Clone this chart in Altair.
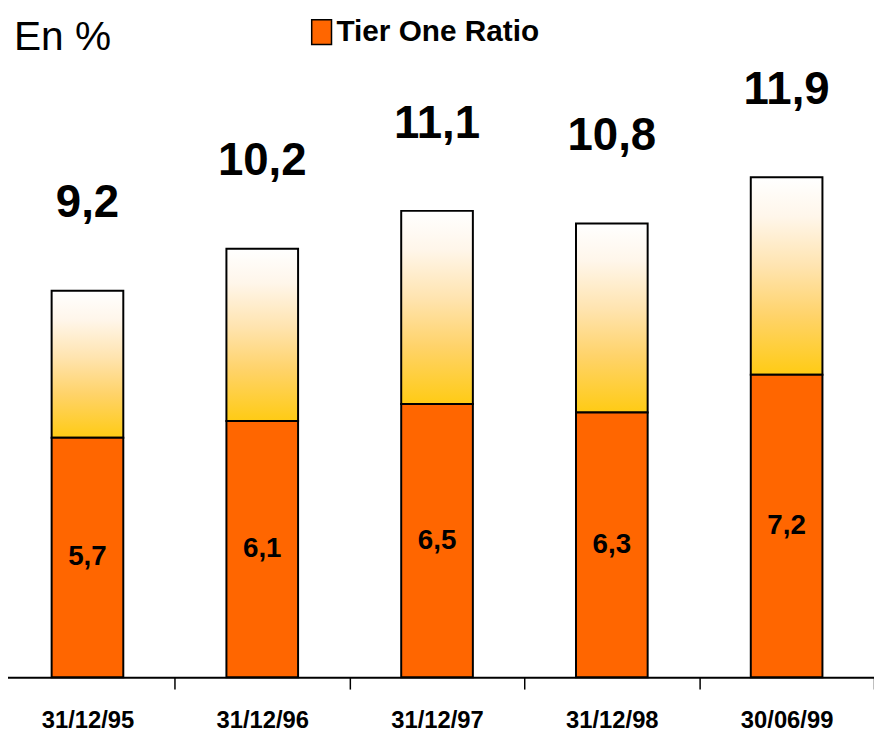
import altair as alt
import pandas as pd

dates = ["31/12/95", "31/12/96", "31/12/97", "31/12/98", "30/06/99"]
tier_one = [5.7, 6.1, 6.5, 6.3, 7.2]
total = [9.2, 10.2, 11.1, 10.8, 11.9]
series_name = "Tier One Ratio"
unit_label = "En %"

def fr(v):
    return f"{v:.1f}".replace(".", ",")

df = pd.DataFrame({
    "date": dates,
    "tier": tier_one,
    "total": total,
    "tier_lbl": [fr(v) for v in tier_one],
    "total_lbl": [fr(v) for v in total],
    "series": [series_name] * len(dates),
})

SANS = "Liberation Sans, Arial, sans-serif"

x = alt.X(
    "date:N", sort=dates, title=None,
    scale=alt.Scale(range=[-8, 874], paddingInner=0, paddingOuter=0),
    axis=alt.Axis(
        labelAngle=0, domainColor="black", domainWidth=2,
        tickColor="black", tickSize=12, tickWidth=1.5, tickBand="extent",
        labelFont=SANS, labelFontSize=24, labelFontWeight="bold",
        labelColor="black", labelPadding=20, grid=False,
    ),
)
yscale = alt.Scale(domain=[0, 15.85], nice=False)

base = alt.Chart(df)

gradient = alt.LinearGradient(
    gradient="linear", x1=0, y1=1, x2=0, y2=0,
    stops=[
        alt.GradientStop(offset=0, color="#FFCB14"),
        alt.GradientStop(offset=0.3, color="#FFD36A"),
        alt.GradientStop(offset=0.55, color="#FFE4B0"),
        alt.GradientStop(offset=0.8, color="#FFF6EA"),
        alt.GradientStop(offset=1, color="#FFFFFF"),
    ],
)

upper = base.mark_bar(color=gradient, stroke="black", strokeWidth=2,
                      width={"band": 0.41}).encode(
    x=x,
    y=alt.Y("tier:Q", scale=yscale, axis=None),
    y2="total:Q",
)

lower = base.mark_bar(stroke="black", strokeWidth=2, width={"band": 0.41},
                      opacity=1).encode(
    x=x,
    y=alt.Y("tier:Q", scale=yscale, axis=None),
    color=alt.Color(
        "series:N",
        scale=alt.Scale(domain=[series_name], range=["#FF6600"]),
        legend=alt.Legend(
            title=None, orient="none", legendX=301.5, legendY=6,
            symbolType="M-0.8,-1H0.8V1H-0.8Z", symbolSize=625,
            symbolStrokeColor="black", symbolStrokeWidth=1.5,
            symbolOpacity=1, labelFont=SANS, labelFontSize=30,
            labelFontWeight="bold", labelColor="black", labelLimit=500,
            labelOffset=0, padding=0,
        ),
    ),
)

inner = base.transform_calculate(mid="datum.tier / 2").mark_text(
    font=SANS, fontSize=28, fontWeight="bold", color="black",
    baseline="middle",
).encode(
    x=x,
    y=alt.Y("mid:Q", scale=yscale, axis=None),
    text="tier_lbl:N",
)

tops = base.mark_text(
    font=SANS, fontSize=46, fontWeight="bold", color="black",
    baseline="middle", dy=-88,
).encode(
    x=x,
    y=alt.Y("total:Q", scale=yscale, axis=None),
    text="total_lbl:N",
)

unit = alt.Chart(pd.DataFrame({"t": [unit_label]})).mark_text(
    font=SANS, fontSize=41, color="black", align="left", baseline="middle",
).encode(
    x=alt.value(6), y=alt.value(27), text="t:N",
)

chart = alt.layer(upper, lower, inner, tops, unit).properties(
    width=874, height=672,
    autosize="none",
    padding={"left": 0, "top": 0, "right": 0, "bottom": 55},
    background="white",
).configure_view(stroke=None)

chart.save("out.html", embed_options={"renderer": "svg", "actions": False})
